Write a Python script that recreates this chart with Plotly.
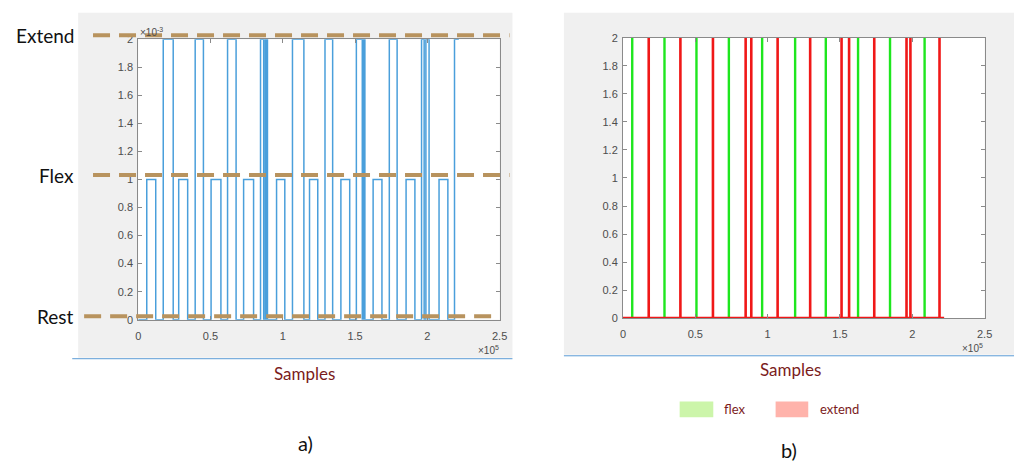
import plotly.graph_objects as go

# ---------------- data ----------------
# panel a) : pulse train (amplitude in units of 1e-3), x in samples
flex_starts  = [5.9e3, 28.0e3, 50.4e3, 72.9e3, 95.7e3, 118.5e3, 140.2e3, 162.5e3, 185.3e3, 208.1e3]
flex_ends    = [12.1e3, 34.2e3, 57.2e3, 79.8e3, 101.4e3, 124.2e3, 146.3e3, 168.6e3, 191.4e3, 214.2e3]
flex_level = 1.0
extend_starts = [17.3e3, 39.4e3, 61.8e3, 84.6e3, 87.9e3, 88.5e3, 89.0e3, 106.7e3, 129.2e3, 150.9e3,
                 155.8e3, 173.7e3, 196.0e3, 199.0e3, 218.8e3]
extend_ends   = [24.2e3, 45.1e3, 67.7e3, 86.8e3, 88.2e3, 88.8e3, 89.4e3, 114.6e3, 134.5e3, 155.0e3,
                 156.8e3, 179.1e3, 197.8e3, 201.2e3, 221.8e3]
extend_level = 2.0

# panel b) : onset spikes
flex_onsets   = [6.4e3, 28.7e3, 50.8e3, 73.2e3, 96.2e3, 119.0e3, 140.2e3, 162.5e3, 184.6e3, 208.5e3]
extend_onsets = [17.8e3, 39.7e3, 62.2e3, 84.8e3, 88.7e3, 106.9e3, 129.4e3, 151.1e3, 156.3e3,
                 173.7e3, 196.0e3, 198.7e3, 218.8e3]
spike_height = 2.0
record_end = 2.22e5

x_tickvals = [0, 0.5e5, 1.0e5, 1.5e5, 2.0e5, 2.5e5]
x_ticktext = ["0", "0.5", "1", "1.5", "2", "2.5"]
y_tickvals = [0, 0.2, 0.4, 0.6, 0.8, 1.0, 1.2, 1.4, 1.6, 1.8, 2.0]
y_ticktext = ["0", "0.2", "0.4", "0.6", "0.8", "1", "1.2", "1.4", "1.6", "1.8", "2"]
level_labels = ["Extend", "Flex", "Rest"]

# ---------------- build pulse-train trace ----------------
pulses = sorted([(s, e, flex_level) for s, e in zip(flex_starts, flex_ends)] +
                [(s, e, extend_level) for s, e in zip(extend_starts, extend_ends)])
sx, sy = [0.0], [0.0]
for i, (s, e, h) in enumerate(pulses):
    sx += [s, s, e]
    sy += [0, h, h]
    if i < len(pulses) - 1:
        sx.append(e)
        sy.append(0)

def spikes(xs, h):
    X, Y = [], []
    for v in xs:
        X += [v, v, None]
        Y += [0, h, None]
    return X, Y

W, H = 1024, 468
def px(x): return x / W
def py(y): return 1 - y / H

fig = go.Figure()
fig.add_trace(go.Scatter(x=sx, y=sy, mode="lines", line=dict(color="#4a9fdb", width=1.5),
                         xaxis="x", yaxis="y", showlegend=False, hoverinfo="skip", cliponaxis=False))
gx, gy = spikes(flex_onsets, spike_height)
rx, ry = spikes(extend_onsets, spike_height)
fig.add_trace(go.Scatter(x=gx, y=gy, mode="lines", line=dict(color="#1ee61e", width=2.4),
                         xaxis="x2", yaxis="y2", showlegend=False, hoverinfo="skip", cliponaxis=False))
fig.add_trace(go.Scatter(x=[0, record_end], y=[0, 0], mode="lines", line=dict(color="#f01818", width=2.6),
                         xaxis="x2", yaxis="y2", showlegend=False, hoverinfo="skip", cliponaxis=False))
fig.add_trace(go.Scatter(x=rx, y=ry, mode="lines", line=dict(color="#f01818", width=2.6),
                         xaxis="x2", yaxis="y2", showlegend=False, hoverinfo="skip", cliponaxis=False))

tickfont = dict(family="Liberation Sans, Arial", size=11, color="#4d4d4d")
axis_common = dict(showgrid=False, zeroline=False, mirror="ticks", ticks="inside", ticklen=4,
                   tickcolor="#8a8a8a", linecolor="#8a8a8a", linewidth=1, showline=True,
                   tickfont=tickfont)

fig.update_layout(
    width=W, height=H, margin=dict(l=0, r=0, t=0, b=0),
    paper_bgcolor="white", plot_bgcolor="white",
    xaxis=dict(domain=[px(136.7), px(502)], range=[0, 2.5e5], tickvals=x_tickvals, ticktext=x_ticktext,
               anchor="y", ticklabelstandoff=6, **axis_common),
    yaxis=dict(domain=[py(322), py(34)], range=[0, 2], tickvals=y_tickvals, ticktext=y_ticktext,
               anchor="x", ticklabelstandoff=2, **axis_common),
    xaxis2=dict(domain=[px(626.7), px(992.3)], range=[0, 2.5e5], tickvals=x_tickvals, ticktext=x_ticktext,
                anchor="y2", ticklabelstandoff=6, **axis_common),
    yaxis2=dict(domain=[py(320.3), py(32.7)], range=[0, 2], tickvals=y_tickvals, ticktext=y_ticktext,
                anchor="x2", ticklabelstandoff=2, **axis_common),
)

shapes = []
# gray figure backgrounds
shapes.append(dict(type="rect", xref="paper", yref="paper", x0=px(76), x1=px(515), y0=py(361), y1=py(7),
                   fillcolor="#f0f0f0", line=dict(width=0), layer="below"))
shapes.append(dict(type="rect", xref="paper", yref="paper", x0=px(567), x1=px(1022), y0=py(358), y1=py(7),
                   fillcolor="#f0f0f0", line=dict(width=0), layer="below"))
# white axes areas
for xr, yr in [("x domain", "y domain"), ("x2 domain", "y2 domain")]:
    shapes.append(dict(type="rect", xref=xr, yref=yr, x0=0, x1=1, y0=0, y1=1,
                       fillcolor="white", line=dict(width=0), layer="below"))
# thin blue underlines
shapes.append(dict(type="line", xref="paper", yref="paper", x0=px(70), x1=px(515), y0=py(362), y1=py(362),
                   line=dict(color="#5b9bd5", width=1)))
shapes.append(dict(type="line", xref="paper", yref="paper", x0=px(567), x1=px(1022), y0=py(359), y1=py(359),
                   line=dict(color="#5b9bd5", width=1)))
# dashed level lines
for y, x0, x1 in [(30, 91, 512), (173.5, 91, 512), (318.5, 82, 502)]:
    shapes.append(dict(type="line", xref="paper", yref="paper", x0=px(x0), x1=px(x1), y0=py(y), y1=py(y),
                       line=dict(color="#b8935e", width=4, dash="17px,9px"), layer="above"))
# legend swatches
shapes.append(dict(type="rect", xref="paper", yref="paper", x0=px(684), x1=px(718), y0=py(422), y1=py(406),
                   fillcolor="#ccf5aa", line=dict(width=0)))
shapes.append(dict(type="rect", xref="paper", yref="paper", x0=px(781), x1=px(814), y0=py(422), y1=py(406),
                   fillcolor="#ffb3ab", line=dict(width=0)))
fig.update_layout(shapes=shapes)

ann = []
lab_font = dict(family="Lato, Open Sans", size=19, color="#111111")
for txt, y in zip(level_labels, [30, 174, 319]):
    ann.append(dict(text=txt, xref="paper", yref="paper", x=px(74), y=py(y), xanchor="right", yanchor="middle",
                    showarrow=False, font=lab_font))
small = dict(family="Liberation Sans, Arial", size=10, color="#4d4d4d")
ann.append(dict(text="×10<sup>-3</sup>", xref="paper", yref="paper", x=px(136), y=py(27), xanchor="left",
                yanchor="middle", showarrow=False, font=small))
ann.append(dict(text="×10<sup>5</sup>", xref="paper", yref="paper", x=px(503), y=py(353), xanchor="right",
                yanchor="middle", showarrow=False, font=small))
ann.append(dict(text="×10<sup>5</sup>", xref="paper", yref="paper", x=px(993), y=py(351), xanchor="right",
                yanchor="middle", showarrow=False, font=small))
red_font = dict(family="Lato, Open Sans", size=17, color="#7b1c1c")
ann.append(dict(text="Samples", xref="paper", yref="paper", x=px(305), y=py(377), xanchor="center",
                yanchor="middle", showarrow=False, font=red_font))
ann.append(dict(text="Samples", xref="paper", yref="paper", x=px(796), y=py(373), xanchor="center",
                yanchor="middle", showarrow=False, font=red_font))
leg_font = dict(family="Lato, Open Sans", size=13, color="#7b1c1c")
ann.append(dict(text="flex", xref="paper", yref="paper", x=px(727), y=py(414), xanchor="left",
                yanchor="middle", showarrow=False, font=leg_font))
ann.append(dict(text="extend", xref="paper", yref="paper", x=px(824), y=py(414), xanchor="left",
                yanchor="middle", showarrow=False, font=leg_font))
cap_font = dict(family="Lato, Open Sans", size=20, color="#111111")
ann.append(dict(text="a)", xref="paper", yref="paper", x=px(306), y=py(449), xanchor="center",
                yanchor="middle", showarrow=False, font=cap_font))
ann.append(dict(text="b)", xref="paper", yref="paper", x=px(795), y=py(456), xanchor="center",
                yanchor="middle", showarrow=False, font=cap_font))
fig.update_layout(annotations=ann)

fig.write_html("out.html")
